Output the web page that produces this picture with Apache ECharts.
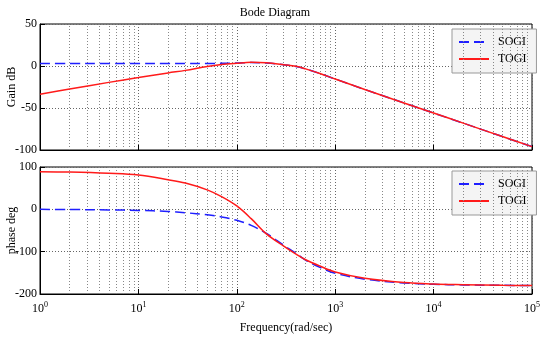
<!DOCTYPE html>
<html>
<head>
<meta charset="utf-8">
<script src="https://cdn.jsdelivr.net/npm/echarts@6/dist/echarts.min.js"></script>
<style>html,body{margin:0;padding:0;background:#fff}#c{width:550px;height:342px}</style>
</head>
<body>
<div id="c"></div>
<script>
var freq = [1, 2, 5, 10, 20, 30, 50, 70, 100, 140, 200, 300, 400, 500, 700, 1000, 2000, 5000, 10000, 20000, 50000, 100000];
var sogiGain = [3, 3, 3, 3, 3, 3, 3, 3.2, 3.5, 4.2, 3.5, 1.5, -0.5, -3.5, -9, -15.5, -28, -44, -56, -68, -84, -96];
var togiGain = [-33.5, -27.5, -19.5, -13.8, -8.2, -5.2, -0.5, 1.8, 3.3, 4.4, 3.8, 1.6, -0.3, -3.4, -9, -15.5, -28, -44, -56, -68, -84, -96];
var sogiPhase = [0, -0.5, -1.3, -2.6, -5, -8, -13, -18, -26, -38, -57, -85, -104, -120, -137, -151, -165, -174, -177, -178.5, -179.5, -180];
var togiPhase = [89, 88, 85, 81, 70, 62, 46, 30, 8, -22, -58, -87, -106, -119, -134, -148, -163, -173, -176.5, -178, -179.5, -180];
var gainTicks = [-100, -50, 0, 50];
var phaseTicks = [-200, -100, 0, 100];
var seriesNames = ['SOGI', 'TOGI'];
var minorMultipliers = [2, 3, 4, 5, 6, 7, 8, 9];
var decades = [1, 10, 100, 1000, 10000];

function pairs(xs, ys) { return xs.map(function (x, i) { return [x, ys[i]]; }); }
var minorLines = [];
decades.forEach(function (d) { minorMultipliers.forEach(function (m) { minorLines.push({ xAxis: d * m }); }); });

var FONT = '"Liberation Serif", "Times New Roman", serif';
var gridStyle = { color: '#666', type: [1, 2], width: 1 };

function xAxisCfg(gi, showLabels) {
  return {
    type: 'log', logBase: 10, gridIndex: gi, min: 1, max: 100000,
    axisLine: { show: true, onZero: false, lineStyle: { color: '#000' } },
    axisTick: { show: true, inside: true, length: 5, lineStyle: { color: '#000' } },
    splitLine: { show: true, lineStyle: gridStyle },
    axisLabel: showLabels ? {
      show: true, margin: 7, color: '#000', fontFamily: FONT,
      formatter: function (v) { return '{b|10}{s|' + Math.round(Math.log10(v)) + '}'; },
      rich: {
        b: { fontSize: 12, fontFamily: FONT, color: '#000' },
        s: { fontSize: 8, fontFamily: FONT, color: '#000', verticalAlign: 'top', padding: [0, 0, 7, 0] }
      }
    } : { show: false },
    name: showLabels ? 'Frequency(rad/sec)' : '',
    nameLocation: 'middle', nameGap: 28, nameMoveOverlap: false,
    nameTextStyle: { fontFamily: FONT, fontSize: 12, color: '#000' }
  };
}
function yAxisCfg(gi, ticks, name) {
  return {
    type: 'value', gridIndex: gi, min: ticks[0], max: ticks[ticks.length - 1],
    interval: ticks[1] - ticks[0],
    axisLine: { show: true, onZero: false, lineStyle: { color: '#000' } },
    axisTick: { show: true, inside: true, length: 5, lineStyle: { color: '#000' } },
    splitLine: { show: true, lineStyle: gridStyle },
    axisLabel: { color: '#000', fontFamily: FONT, fontSize: 12, margin: 3 },
    name: name, nameLocation: 'middle', nameGap: 22, nameRotate: 90, nameMoveOverlap: false,
    nameTextStyle: { fontFamily: FONT, fontSize: 12, color: '#000' }
  };
}
function legendCfg(top) {
  return {
    data: seriesNames, orient: 'vertical', left: 452, top: top,
    itemWidth: 30, itemHeight: 10, itemGap: 5,
    padding: [7, 10, 8, 6],
    backgroundColor: '#f4f4f4', borderColor: '#999', borderWidth: 1,
    itemStyle: { opacity: 0 },
    textStyle: { fontFamily: FONT, fontSize: 12, color: '#000', padding: [0, 0, 0, 4] }
  };
}
function dataSeries(name, xi, ys, color, dashed) {
  return {
    name: name, type: 'line', xAxisIndex: xi, yAxisIndex: xi,
    data: pairs(freq, ys), smooth: 0.35, symbol: 'none', z: 5,
    lineStyle: { color: color, width: 1.5, type: dashed ? [10, 5] : 'solid' },
    itemStyle: { color: color }
  };
}
function gridSeries(xi) {
  return {
    name: 'minor' + xi, type: 'line', xAxisIndex: xi, yAxisIndex: xi, data: [], z: 1,
    markLine: { silent: true, symbol: ['none', 'none'], label: { show: false }, animation: false,
      lineStyle: { color: '#888', type: [1, 2], width: 1 }, data: minorLines }
  };
}

var chart = echarts.init(document.getElementById('c'));
chart.setOption({
  animation: false,
  backgroundColor: '#fff',
  title: { text: 'Bode Diagram', left: 'center', top: 2,
    textStyle: { fontFamily: FONT, fontSize: 12, fontWeight: 'normal', color: '#000' } },
  grid: [
    { left: 40, right: 18, top: 24, height: 126, containLabel: false, outerBoundsMode: 'none', show: true, borderColor: '#000', borderWidth: 1, backgroundColor: 'transparent' },
    { left: 40, right: 18, top: 167, height: 127, containLabel: false, outerBoundsMode: 'none', show: true, borderColor: '#000', borderWidth: 1, backgroundColor: 'transparent' }
  ],
  xAxis: [xAxisCfg(0, false), xAxisCfg(1, true)],
  yAxis: [yAxisCfg(0, gainTicks, 'Gain dB'), yAxisCfg(1, phaseTicks, 'phase deg')],
  legend: [legendCfg(29), legendCfg(171)],
  series: [
    gridSeries(0), gridSeries(1),
    dataSeries('SOGI', 0, sogiGain, '#1f1fff', true),
    dataSeries('TOGI', 0, togiGain, '#ff1a1a', false),
    dataSeries('SOGI', 1, sogiPhase, '#1f1fff', true),
    dataSeries('TOGI', 1, togiPhase, '#ff1a1a', false)
  ]
});
</script>
</body>
</html>
